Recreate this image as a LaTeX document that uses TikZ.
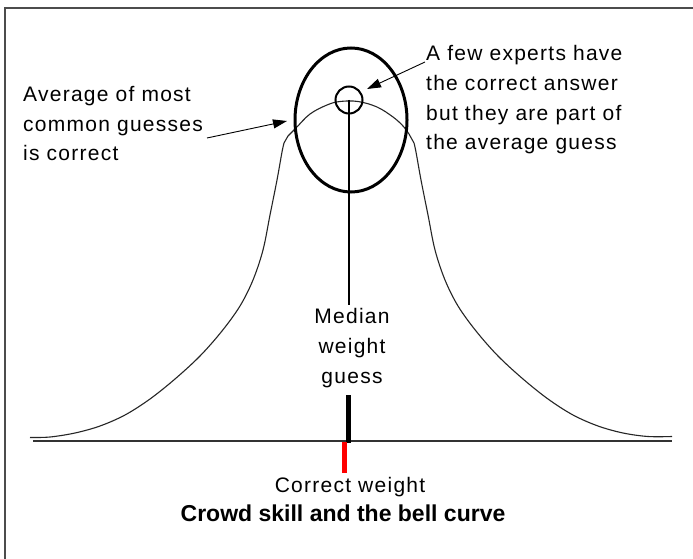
\documentclass[tikz,border=0pt]{standalone}
\usepackage{fontspec}
\setmainfont{Liberation Sans}
\usetikzlibrary{arrows.meta}
\begin{document}
\begin{tikzpicture}[x=1pt,y=-1pt,
  lbl/.style={font=\fontsize{21}{29.8}\selectfont\addfontfeature{LetterSpace=6}, inner sep=0pt},
  ttl/.style={font=\fontsize{23}{26}\selectfont\bfseries, inner sep=0pt},
  curve/.style={line width=1.1pt, black!85},
  pointer/.style={line width=0.9pt, -{Triangle[length=14pt,width=9pt]}},
  frame/.style={line width=2pt, black!70}]
\useasboundingbox (0,0) rectangle (693,559);
\fill[white] (0,0) rectangle (693,559);
% frame (only top and left edges are visible)
\draw[frame] (5,559) -- (5,8) -- (693,8);
% axis
\draw[line width=2pt, black!80] (33,441) -- (672,441);
% bell curve
\draw[curve] plot[smooth,tension=0.55] coordinates {(30,437.5) (50,437) (75,433) (100,426) (125,415) (150,399) (175,379) (200,356) (222,331) (240,306) (253,280) (263,250) (270,215) (277,180) (282,152) (284,143)}
 -- plot[smooth,tension=0.6] coordinates {(288,136) (296,128) (310,114) (327,105) (340,101.5) (358,101.5) (377,107) (393,117) (403,126) (409,134)}
 -- plot[smooth,tension=0.55] coordinates {(414,143) (416,152) (421,180) (428,215) (435,250) (445,280) (458,306) (476,331) (498,356) (523,379) (548,399) (573,415) (598,426) (623,433) (648,436.5) (672,436.5)};
% big ellipse
\draw[line width=3pt] (351,120) ellipse [x radius=56, y radius=72];
% small circle
\node[draw, circle, line width=2pt, minimum size=27pt, inner sep=0pt] (c) at (349,100) {};
% texts
\node[lbl, anchor=north west, align=left] (avg) at (23,86) {Average of most\\common guesses\\is correct};
\node[lbl, anchor=north west, align=left] (exp) at (426,45) {A few experts have\\the correct answer\\but they are part of\\the average guess};
\node[lbl, anchor=north, align=center] (med) at (352,308) {Median\\weight\\guess};
\node[lbl, anchor=north] (corr) at (350,477) {Correct weight};
\node[ttl, anchor=north] (title) at (343,505) {Crowd skill and the bell curve};
% median line
\draw[line width=1.3pt] (c.center) -- ([yshift=3pt]c.center |- med.north);
% bars
\coordinate (bk1) at (348,395);
\coordinate (bk2) at (348,443);
\coordinate (rd1) at (344.5,442);
\coordinate (rd2) at (344.5,473);
\draw[line width=5pt, black] (bk1) -- (bk2);
\draw[line width=5pt, red] (rd1) -- (rd2);
% pointers
\coordinate (la1) at (207,138);
\coordinate (la2) at (287,121);
\coordinate (ra1) at (425,62);
\coordinate (ra2) at (367,89);
\draw[pointer] (la1) -- (la2);
\draw[pointer] (ra1) -- (ra2);
\end{tikzpicture}
\end{document}
